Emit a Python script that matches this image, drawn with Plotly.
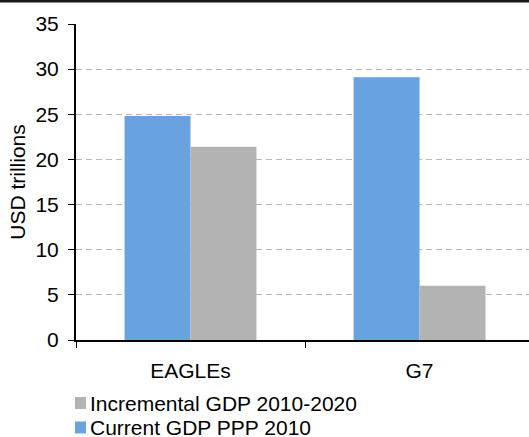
import plotly.graph_objects as go

# Data (USD trillions)
categories = ["EAGLEs", "G7"]
current_gdp_ppp_2010 = [24.8, 29.1]
incremental_gdp_2010_2020 = [21.4, 6.0]
series_names = ["Current GDP PPP 2010", "Incremental GDP 2010-2020"]
series_colors = ["#68A3E0", "#B3B3B3"]
y_ticks = [0, 5, 10, 15, 20, 25, 30, 35]

W, H = 529, 437
ML, MR, MT, MB = 76, 0, 24, 97
PW, PH = W - ML - MR, H - MT - MB
FONT = "Liberation Sans, Arial, sans-serif"
FS = 21


def px_x(px):
    return (px - ML) / PW


def px_y(py):
    return (H - MB - py) / PH


fig = go.Figure()
for name, color, vals in zip(series_names, series_colors,
                             [current_gdp_ppp_2010, incremental_gdp_2010_2020]):
    fig.add_trace(go.Bar(x=categories, y=vals, name=name,
                         marker=dict(color=color, line=dict(width=0)),
                         showlegend=False))

fig.update_layout(
    width=W, height=H,
    margin=dict(l=ML, r=MR, t=MT, b=MB, autoexpand=False),
    paper_bgcolor="white", plot_bgcolor="white",
    barmode="group", bargap=0.424, bargroupgap=0,
    font=dict(family=FONT, size=FS, color="black"),
)

fig.update_xaxes(
    range=[-0.5, 1.478], showgrid=False, zeroline=False,
    showline=True, linecolor="black", linewidth=2,
    ticks="outside", tickson="boundaries", ticklen=6, tickcolor="black",
    tickwidth=1, ticklabelstandoff=11, automargin=False,
    tickfont=dict(size=FS, family=FONT, color="black"),
)
fig.update_yaxes(
    range=[0, 35], tickvals=y_ticks, zeroline=False,
    showline=True, linecolor="black", linewidth=2,
    ticks="outside", ticklen=6, tickcolor="black", tickwidth=1,
    ticklabelstandoff=5, automargin=False,
    showgrid=True, gridcolor="#B8B8B8", gridwidth=1, griddash="6px,4px",
    tickfont=dict(size=FS, family=FONT, color="black"),
    title=dict(text="USD trillions", standoff=4,
               font=dict(size=FS, family=FONT, color="black")),
)

# Thick rule across the top edge of the page
fig.add_shape(type="rect", xref="paper", yref="paper",
              x0=px_x(0), x1=px_x(W), y0=px_y(2.5), y1=px_y(-2),
              fillcolor="#1a1a1a", line=dict(width=0), layer="above")

# Legend: incremental first, then current
legend_rows = [(series_names[1], series_colors[1], 403),
               (series_names[0], series_colors[0], 427.5)]
for name, color, cy in legend_rows:
    fig.add_shape(type="rect", xref="paper", yref="paper",
                  x0=px_x(75), x1=px_x(86), y0=px_y(cy + 6), y1=px_y(cy - 6),
                  fillcolor=color, line=dict(width=0))
    fig.add_annotation(text=name, xref="paper", yref="paper",
                       x=px_x(88), y=px_y(cy), xanchor="left", yanchor="middle",
                       showarrow=False,
                       font=dict(size=FS, family=FONT, color="black"))

fig.write_html("out.html")
